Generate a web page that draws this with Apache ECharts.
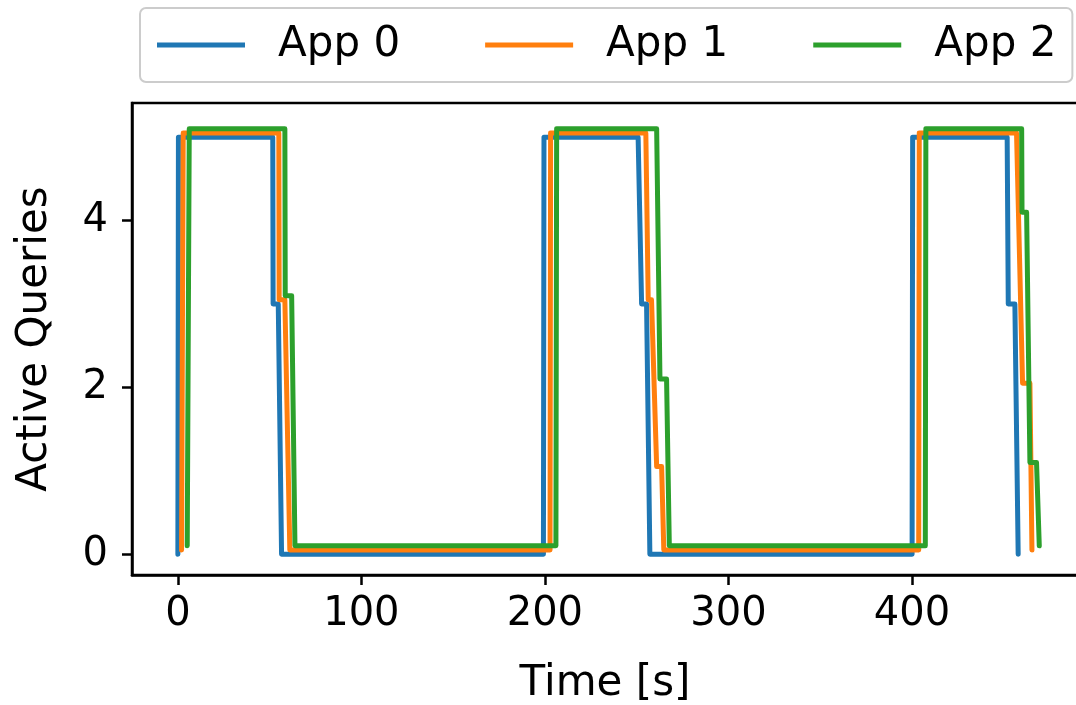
<!DOCTYPE html>
<html>
<head>
<meta charset="utf-8">
<script src="https://cdn.jsdelivr.net/npm/echarts@6/dist/echarts.min.js"></script>
<style>
  html, body { margin: 0; padding: 0; background: #fff; }
  #chart { width: 1076px; height: 705px; }
</style>
</head>
<body>
<div id="chart"></div>
<script>
// data (time in s, active queries; App 1 / App 2 drawn slightly raised)
var appNames = ['App 0', 'App 1', 'App 2'];
var appColors = ['#1f77b4', '#ff7f0e', '#2ca02c'];

var app0Time = [0, 0.3, 51.7, 51.9, 54.7, 56.5, 199.2, 199.5, 250.8, 252.7, 255.4, 257.2, 400.1, 400.4, 451.9, 452.5, 456.1, 457.9];
var app0Queries = [0, 5, 5, 3, 3, 0, 0, 5, 5, 3, 3, 0, 0, 5, 5, 3, 3, 0];

var app1Time = [2.0, 2.9, 55.0, 55.2, 58.3, 61.0, 202.8, 203.1, 255.0, 256.3, 258.1, 260.9, 263.6, 264.8, 403.7, 404.0, 457.0, 460.3, 464.3, 465.4];
var app1Queries = [0.05, 5.05, 5.05, 3.05, 3.05, 0.05, 0.05, 5.05, 5.05, 3.05, 3.05, 1.05, 1.05, 0.05, 0.05, 5.05, 5.05, 2.05, 2.05, 0.05];

var app2Time = [5.1, 6.2, 58.3, 58.5, 62.0, 63.8, 206.0, 206.4, 260.9, 262.7, 266.3, 267.8, 407.3, 407.6, 459.8, 460.0, 462.5, 464.3, 467.9, 469.4];
var app2Queries = [0.1, 5.1, 5.1, 3.1, 3.1, 0.1, 0.1, 5.1, 5.1, 2.1, 2.1, 0.1, 0.1, 5.1, 5.1, 4.1, 4.1, 1.1, 1.1, 0.1];

var xTicks = [0, 100, 200, 300, 400];
var yTicks = [0, 2, 4];

function pairs(xs, ys) {
    var out = [];
    for (var i = 0; i < xs.length; i++) out.push([xs[i], ys[i]]);
    return out;
}

var myChart = echarts.init(document.getElementById('chart'));
var font = 'DejaVu Sans';

var seriesData = [pairs(app0Time, app0Queries), pairs(app1Time, app1Queries), pairs(app2Time, app2Queries)];
var series = [];
for (var k = 0; k < 3; k++) {
    series.push({
        name: appNames[k],
        type: 'line',
        data: seriesData[k],
        showSymbol: false,
        color: appColors[k],
        lineStyle: { width: 5, color: appColors[k], cap: 'round', join: 'round' },
        z: 2 + k
    });
}

var option = {
    animation: false,
    backgroundColor: '#fff',
    legend: {
        data: appNames,
        left: 140,
        top: 8,
        icon: 'rect',
        itemWidth: 88,
        itemHeight: 5,
        itemGap: 85,
        padding: [16, 16, 16, 17],
        borderColor: '#cccccc',
        borderWidth: 2,
        borderRadius: 6,
        textStyle: { fontFamily: font, fontSize: 42, color: '#000', padding: [0, 0, 0, 28] }
    },
    grid: {
        left: 132,
        right: -2,
        top: 103,
        bottom: 130,
        outerBoundsMode: 'none',
        show: true,
        borderColor: '#000',
        borderWidth: 2.5
    },
    xAxis: {
        type: 'value',
        min: -25,
        max: 490.5,
        name: 'Time [s]',
        nameLocation: 'middle',
        nameGap: 88,
        nameTextStyle: { fontFamily: font, fontSize: 42, color: '#000' },
        splitLine: { show: false },
        axisLine: { show: true, onZero: false, lineStyle: { color: '#000', width: 2.5 } },
        axisTick: { show: true, customValues: xTicks, length: 10, lineStyle: { color: '#000', width: 2.5 } },
        axisLabel: { customValues: xTicks, fontFamily: font, fontSize: 40, color: '#000', margin: 20 }
    },
    yAxis: {
        type: 'value',
        min: -0.25,
        max: 5.41,
        name: 'Active Queries',
        nameLocation: 'middle',
        nameGap: 76,
        nameTextStyle: { fontFamily: font, fontSize: 42, color: '#000' },
        splitLine: { show: false },
        axisLine: { show: true, onZero: false, lineStyle: { color: '#000', width: 2.5 } },
        axisTick: { show: true, customValues: yTicks, length: 10, lineStyle: { color: '#000', width: 2.5 } },
        axisLabel: { customValues: yTicks, fontFamily: font, fontSize: 40, color: '#000', margin: 24 }
    },
    series: series
};

myChart.setOption(option);
window.addEventListener("resize", function () {
    myChart.resize();
});
</script>
</body>
</html>
